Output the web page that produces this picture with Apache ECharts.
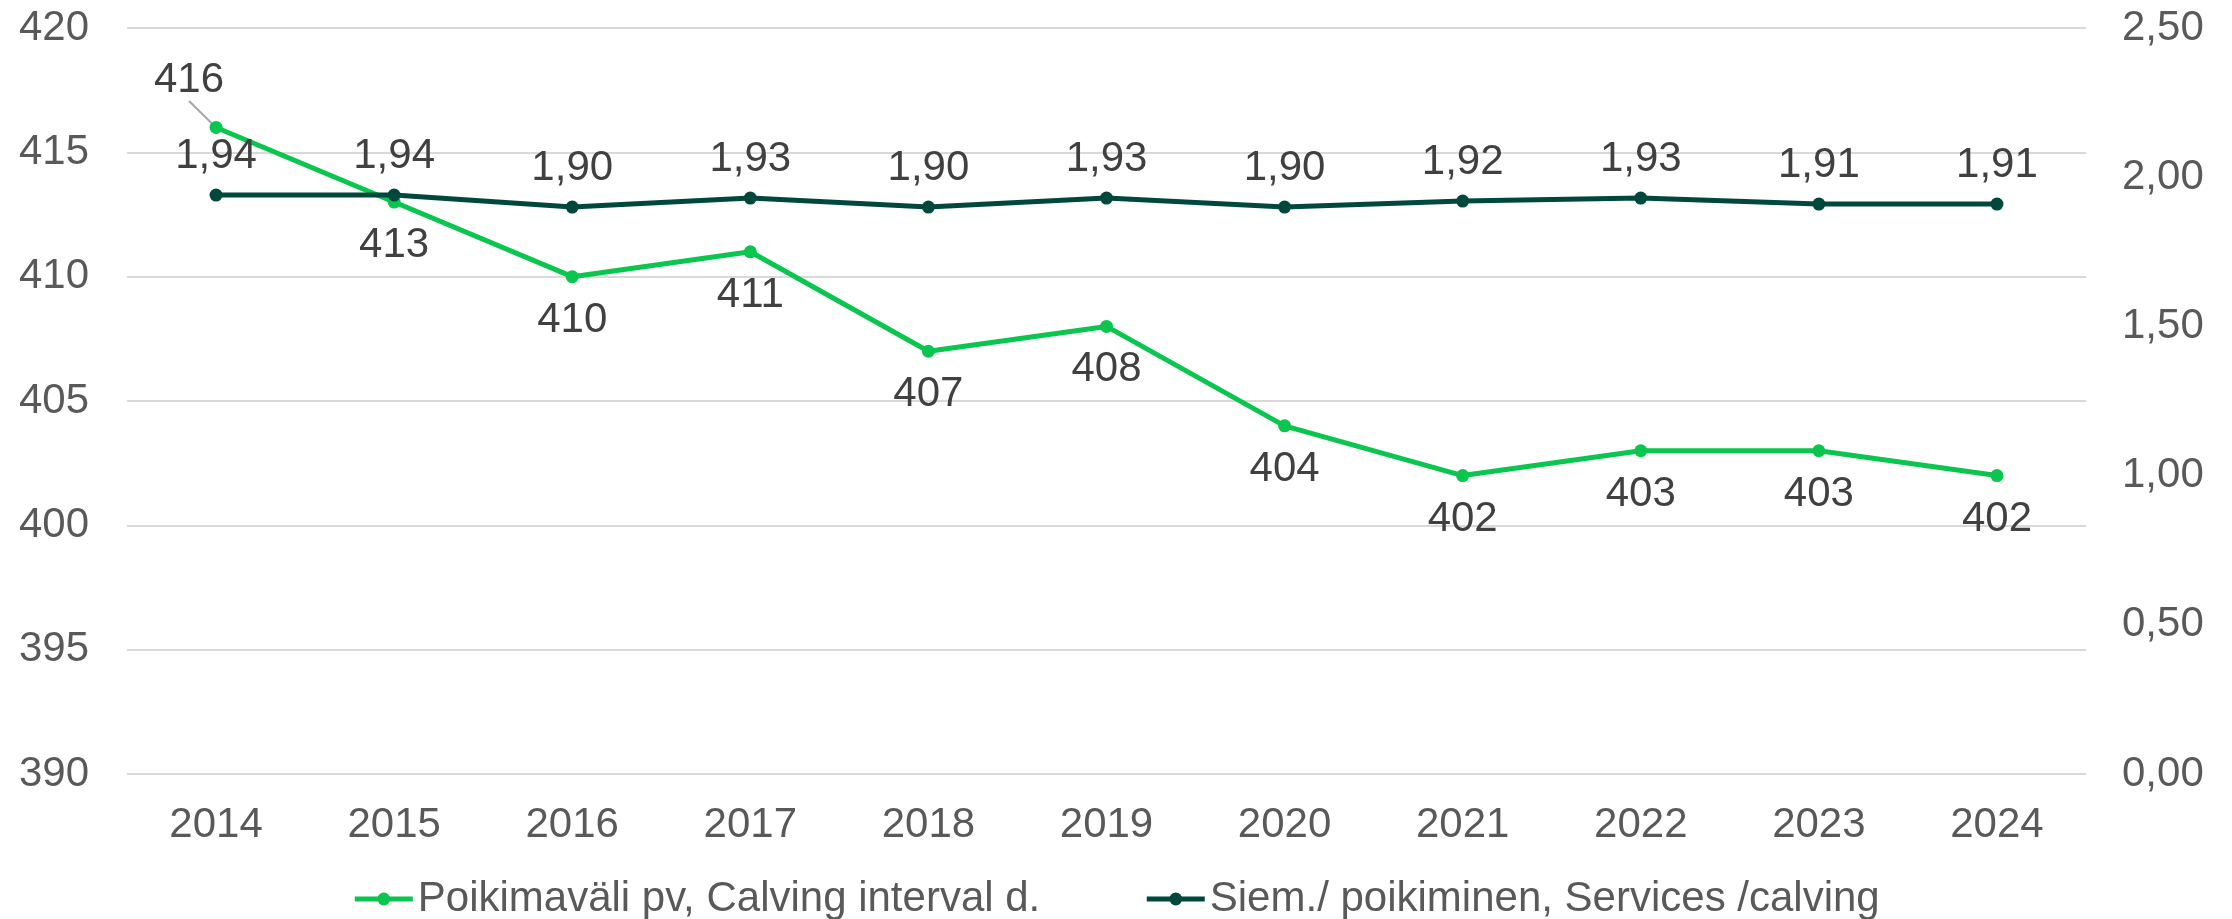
<!DOCTYPE html>
<html>
<head>
<meta charset="utf-8">
<script src="https://cdn.jsdelivr.net/npm/echarts@6/dist/echarts.min.js"></script>
<style>
  html, body { margin: 0; padding: 0; background: #fff; }
  #chart { width: 2232px; height: 919px; }
</style>
</head>
<body>
<div id="chart"></div>
<script>
// data
const years = ['2014', '2015', '2016', '2017', '2018', '2019', '2020', '2021', '2022', '2023', '2024'];
const calvingInterval = [416, 413, 410, 411, 407, 408, 404, 402, 403, 403, 402];
const servicesPerCalving = [1.94, 1.94, 1.90, 1.93, 1.90, 1.93, 1.90, 1.92, 1.93, 1.91, 1.91];
const nameInterval = 'Poikimaväli pv, Calving interval d.';
const nameServices = 'Siem./ poikiminen, Services /calving';

const green = '#0BC64E';
const dark = '#00483C';
const font = 'Liberation Sans, Arial, sans-serif';
const fs = 42;

const chart = echarts.init(document.getElementById('chart'));

// only the first label is moved away and gets a leader line
const intervalData = calvingInterval.map((v, i) =>
  i === 0 ? { value: v, labelLine: { show: true } } : v
);

const option = {
  animation: false,
  textStyle: { fontFamily: font },
  grid: { left: 127, right: 146, top: 28, bottom: 145 },
  legend: {
    bottom: -6,
    left: 'center',
    itemGap: 104,
    itemWidth: 58,
    itemHeight: 16,
    lineStyle: { width: 5 },
    textStyle: { fontSize: fs, color: '#595959', fontFamily: font },
    data: [nameInterval, nameServices]
  },
  xAxis: {
    type: 'category',
    data: years,
    boundaryGap: true,
    axisLine: { show: false },
    axisTick: { show: false },
    axisLabel: { fontSize: fs, color: '#595959', margin: 30 }
  },
  yAxis: [
    {
      type: 'value',
      min: 390,
      max: 420,
      interval: 5,
      axisLine: { show: false },
      axisTick: { show: false },
      axisLabel: { fontSize: fs, color: '#595959', margin: 38 },
      splitLine: { lineStyle: { color: '#D9D9D9', width: 2 } }
    },
    {
      type: 'value',
      min: 0,
      max: 2.5,
      interval: 0.5,
      axisLine: { show: false },
      axisTick: { show: false },
      splitLine: { show: false },
      axisLabel: {
        fontSize: fs,
        color: '#595959',
        margin: 36,
        formatter: v => v.toFixed(2).replace('.', ',')
      }
    }
  ],
  series: [
    {
      name: nameInterval,
      type: 'line',
      yAxisIndex: 0,
      data: intervalData,
      symbol: 'circle',
      symbolSize: 13,
      lineStyle: { color: green, width: 5 },
      itemStyle: { color: green },
      z: 2,
      label: {
        show: true,
        position: 'bottom',
        distance: 16,
        fontSize: fs,
        color: '#404040'
      },
      labelLine: { show: false, lineStyle: { color: '#A6A6A6', width: 2 } },
      labelLayout: params => {
        if (params.dataIndex === 0) {
          return { dx: -27, dy: -91 };
        }
        return {};
      }
    },
    {
      name: nameServices,
      type: 'line',
      yAxisIndex: 1,
      data: servicesPerCalving,
      symbol: 'circle',
      symbolSize: 13,
      lineStyle: { color: dark, width: 5 },
      itemStyle: { color: dark },
      z: 3,
      label: {
        show: true,
        position: 'top',
        distance: 11,
        fontSize: fs,
        color: '#404040',
        formatter: p => p.value.toFixed(2).replace('.', ',')
      }
    }
  ]
};

chart.setOption(option);
window.addEventListener('resize', () => chart.resize());
</script>
</body>
</html>
